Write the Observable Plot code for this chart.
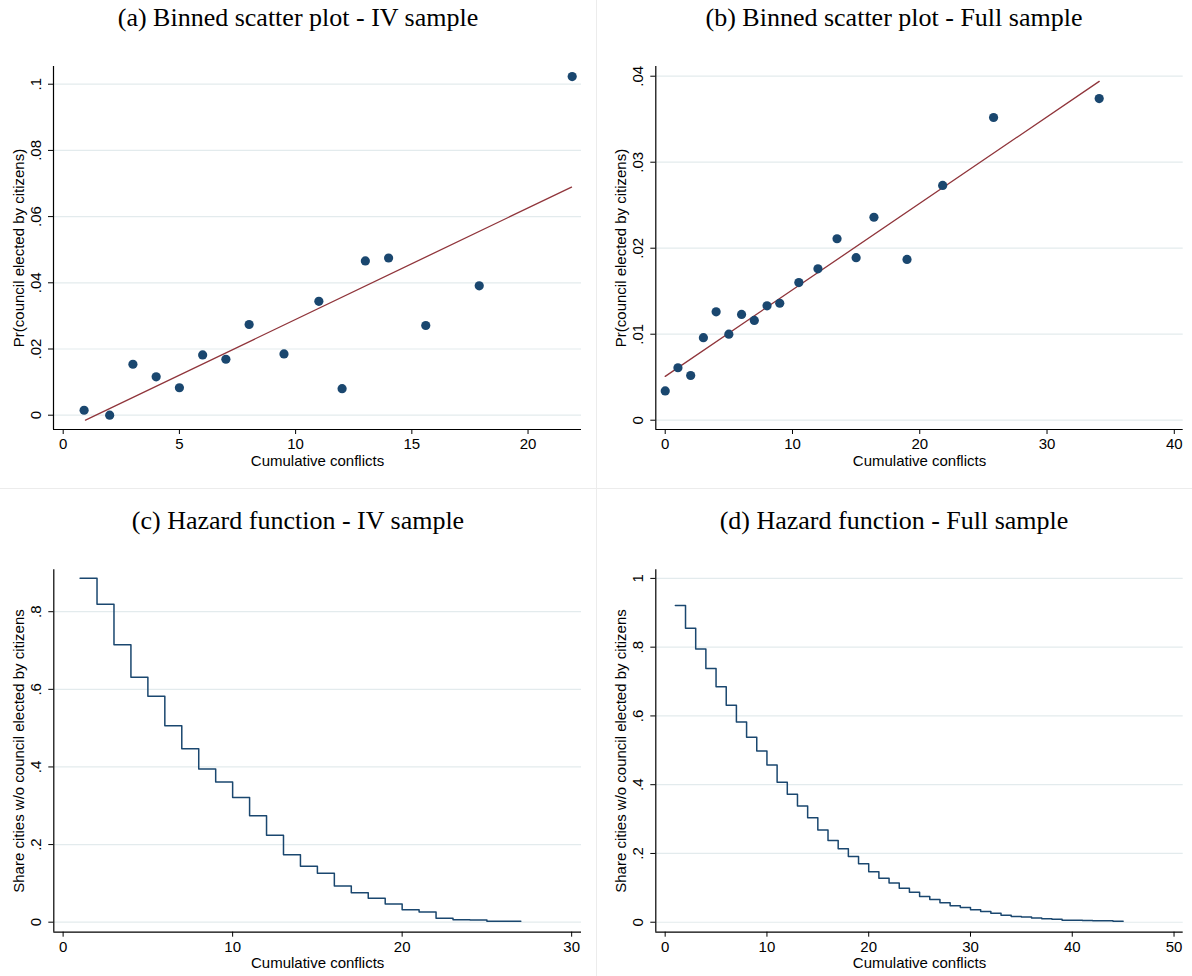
<!DOCTYPE html>
<html><head><meta charset="utf-8">
<script src="https://cdn.jsdelivr.net/npm/d3@7"></script>
<script src="https://cdn.jsdelivr.net/npm/@observablehq/plot@0.6"></script>
<style>
body{margin:0;background:#fff;}
#root{position:relative;width:1192px;height:976px;overflow:hidden;background:#fff;}
.title{position:absolute;width:596px;text-align:center;font-family:"Liberation Serif","Times New Roman",serif;font-size:26px;color:#000;line-height:1;white-space:nowrap;}
.panel{position:absolute;}
.sep{position:absolute;background:#ececec;}
</style></head><body><div id="root"></div>
<script>
// ---- Data ----
const titles = ["(a) Binned scatter plot - IV sample", "(b) Binned scatter plot - Full sample",
                "(c) Hazard function - IV sample", "(d) Hazard function - Full sample"];
const xLabel = "Cumulative conflicts";
const yLabelTop = "Pr(council elected by citizens)";
const yLabelBottom = "Share cities w/o council elected by citizens";

// (a) binned scatter, IV sample
const aX = [0.9, 2, 3, 4, 5, 6, 7, 8, 9.5, 11, 12, 13, 14, 15.6, 17.9, 21.9];
const aY = [0.0015, 0.0000, 0.0154, 0.0116, 0.0083, 0.0182, 0.0169, 0.0274, 0.0185, 0.0344, 0.0080, 0.0466, 0.0475, 0.0271, 0.0391, 0.1023];
const aFitX = [0.96, 21.87];
const aFitY = [-0.0015, 0.0689];
const aXTicks = [0, 5, 10, 15, 20];
const aYTicks = [0, 0.02, 0.04, 0.06, 0.08, 0.1];
const aYTickLabels = ["0", ".02", ".04", ".06", ".08", ".1"];

// (b) binned scatter, full sample
const bX = [0, 1, 2, 3, 4, 5, 6, 7, 8, 9, 10.5, 12, 13.5, 15, 16.4, 19, 21.8, 25.8, 34.1];
const bY = [0.0034, 0.0061, 0.0052, 0.0096, 0.0126, 0.0100, 0.0123, 0.0116, 0.0133, 0.0136, 0.0160, 0.0176, 0.0211, 0.0189, 0.0236, 0.0187, 0.0273, 0.0352, 0.0374];
const bFitX = [0, 34.1];
const bFitY = [0.0051, 0.0394];
const bXTicks = [0, 10, 20, 30, 40];
const bYTicks = [0, 0.01, 0.02, 0.03, 0.04];
const bYTickLabels = ["0", ".01", ".02", ".03", ".04"];

// (c) hazard, IV sample
const cT = [1, 2, 3, 4, 5, 6, 7, 8, 9, 10, 11, 12, 13, 14, 15, 16, 17, 18, 19, 20, 21, 22, 23, 24, 25, 26, 27];
const cS = [0.886, 0.819, 0.715, 0.631, 0.582, 0.506, 0.447, 0.395, 0.361, 0.321, 0.274, 0.224, 0.174, 0.144, 0.126, 0.093, 0.076, 0.062, 0.047, 0.032, 0.026, 0.010, 0.006, 0.0055, 0.0026, 0.0026, 0.0026];
const cXTicks = [0, 10, 20, 30];
const cYTicks = [0, 0.2, 0.4, 0.6, 0.8];
const cYTickLabels = ["0", ".2", ".4", ".6", ".8"];

// (d) hazard, full sample
const dT = [1, 2, 3, 4, 5, 6, 7, 8, 9, 10, 11, 12, 13, 14, 15, 16, 17, 18, 19, 20, 21, 22, 23, 24, 25, 26, 27, 28, 29, 30, 31, 32, 33, 34, 35, 36, 37, 38, 39, 40, 41, 42, 43, 44, 45];
const dS = [0.921, 0.855, 0.795, 0.738, 0.685, 0.631, 0.582, 0.538, 0.498, 0.457,
            0.407, 0.372, 0.338, 0.304, 0.268, 0.238, 0.214, 0.191, 0.170, 0.147,
            0.128, 0.114, 0.099, 0.087, 0.075, 0.066, 0.057, 0.048, 0.043, 0.036,
            0.031, 0.026, 0.020, 0.017, 0.015, 0.012, 0.010, 0.009, 0.006, 0.006,
            0.005, 0.004, 0.004, 0.003, 0.003];
const dXTicks = [0, 10, 20, 30, 40, 50];
const dYTicks = [0, 0.2, 0.4, 0.6, 0.8, 1];
const dYTickLabels = ["0", ".2", ".4", ".6", ".8", "1"];

// ---- Styling ----
const NAVY = "#1a476f", MAROON = "#90353b", GRID = "#e3ebed";
const SANS = "'Liberation Sans', Arial, Helvetica, sans-serif";

function makePanel(o) {
  return Plot.plot({
    width: o.width, height: o.height,
    marginLeft: o.ml, marginRight: o.mr, marginTop: o.mt, marginBottom: o.mb,
    x: {domain: o.xDomain},
    y: {domain: o.yDomain},
    style: {fontFamily: SANS, fontSize: "15px", color: "#000", background: "transparent", overflow: "visible"},
    marks: [
      Plot.gridY(o.yTicks, {stroke: GRID, strokeOpacity: 1, strokeWidth: 1.2}),
      ...o.marks,
      Plot.ruleX([o.xDomain[0]], {stroke: "#000", strokeWidth: 1.2}),
      Plot.ruleY([o.yDomain[0]], {stroke: "#000", strokeWidth: 1.2}),
      Plot.axisX(o.xTicks, {tickSize: 5, tickPadding: 4, label: null, fontSize: 15}),
      Plot.axisY(o.yTicks, {tickSize: 5, tickFormat: () => "", label: null}),
      Plot.text(o.yTicks, {y: d => d, text: (d, i) => o.yTickLabels[i], frameAnchor: "left",
        rotate: -90, textAnchor: "middle", lineAnchor: "bottom", dx: -13, fontSize: 15}),
      Plot.text([o.yLabel], {text: d => d, frameAnchor: "left", rotate: -90, textAnchor: "middle",
        lineAnchor: "bottom", dx: -30, fontSize: 15}),
      Plot.text([xLabel], {text: d => d, frameAnchor: "bottom", textAnchor: "middle",
        lineAnchor: "bottom", dy: 36, fontSize: 15})
    ]
  });
}

const root = document.getElementById("root");
function place(el, left, top) {
  const w = document.createElement("div");
  w.className = "panel"; w.style.left = left + "px"; w.style.top = top + "px";
  w.appendChild(el); root.appendChild(w);
}
function addTitle(text, left, top) {
  const t = document.createElement("div");
  t.className = "title"; t.textContent = text;
  t.style.left = left + "px"; t.style.top = top + "px";
  root.appendChild(t);
}
function addSep(left, top, w, h) {
  const s = document.createElement("div");
  s.className = "sep";
  Object.assign(s.style, {left: left + "px", top: top + "px", width: w + "px", height: h + "px"});
  root.appendChild(s);
}
addSep(0, 488, 1192, 1);
addSep(596, 0, 1, 976);

const scatter = (xs, ys) => Plot.dot(xs.map((x, i) => ({x, y: ys[i]})), {x: "x", y: "y", r: 4.6, fill: NAVY, stroke: "none"});
const fit = (xs, ys) => Plot.line(xs.map((x, i) => ({x, y: ys[i]})), {x: "x", y: "y", stroke: MAROON, strokeWidth: 1.3});
const steps = (ts, ss) => Plot.line(ts.map((t, i) => ({t, s: ss[i]})), {x: "t", y: "s", curve: "step-after", stroke: NAVY, strokeWidth: 1.5});

// Panel (a)
place(makePanel({
  width: 596, height: 425, ml: 53, mr: 15, mt: 16, mb: 46,
  xDomain: [-0.417, 22.30], yDomain: [-0.00432, 0.10535],
  xTicks: aXTicks, yTicks: aYTicks, yTickLabels: aYTickLabels, yLabel: yLabelTop,
  marks: [fit(aFitX, aFitY), scatter(aX, aY)]
}), 0, 50);
addTitle(titles[0], 0, 5);

// Panel (b)
place(makePanel({
  width: 596, height: 425, ml: 59.3, mr: 9.3, mt: 16, mb: 46,
  xDomain: [-0.74, 40.70], yDomain: [-0.00108, 0.04113],
  xTicks: bXTicks, yTicks: bYTicks, yTickLabels: bYTickLabels, yLabel: yLabelTop,
  marks: [fit(bFitX, bFitY), scatter(bX, bY)]
}), 596, 50);
addTitle(titles[1], 596, 5);

// Panel (c)
place(makePanel({
  width: 596, height: 423, ml: 53.3, mr: 15, mt: 16.3, mb: 44.3,
  xDomain: [-0.55, 30.58], yDomain: [-0.0258, 0.908],
  xTicks: cXTicks, yTicks: cYTicks, yTickLabels: cYTickLabels, yLabel: yLabelBottom,
  marks: [steps(cT, cS)]
}), 0, 553);
addTitle(titles[2], 0, 508);

// Panel (d)
place(makePanel({
  width: 596, height: 423, ml: 59.3, mr: 9.3, mt: 16.3, mb: 44.3,
  xDomain: [-0.92, 50.9], yDomain: [-0.029, 1.025],
  xTicks: dXTicks, yTicks: dYTicks, yTickLabels: dYTickLabels, yLabel: yLabelBottom,
  marks: [steps(dT, dS)]
}), 596, 553);
addTitle(titles[3], 596, 508);
</script></body></html>
